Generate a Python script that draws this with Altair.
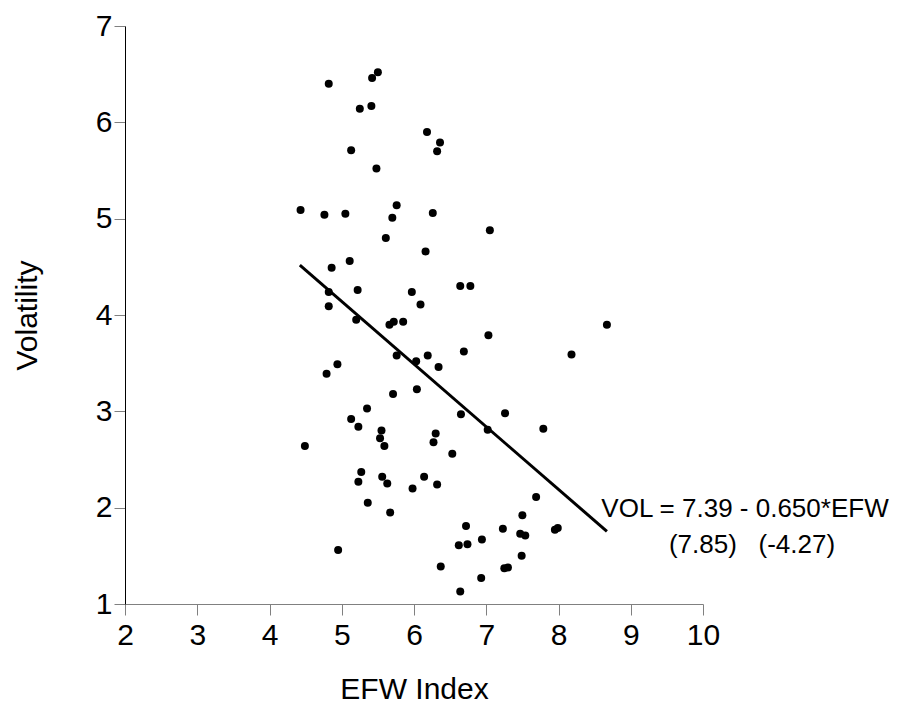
import altair as alt
import pandas as pd

efw = [4.43, 4.49, 4.82, 4.76, 4.82, 4.82, 4.86, 4.79, 4.94, 4.95,
       5.05, 5.11, 5.13, 5.13, 5.20, 5.22, 5.23, 5.25, 5.41, 5.42,
       5.50, 5.48, 5.35, 5.27, 5.23, 5.36, 5.55, 5.53, 5.59, 5.56,
       5.63, 5.67, 5.61, 5.70, 5.76, 5.66, 5.72, 5.85, 5.76, 5.71,
       5.97, 5.98, 6.03, 6.04, 6.09, 6.14, 6.16, 6.18, 6.19, 6.26,
       6.27, 6.30, 6.32, 6.32, 6.36, 6.34, 6.37, 6.53, 6.62, 6.64,
       6.64, 6.65, 6.69, 6.72, 6.74, 6.78, 6.93, 6.94, 7.02, 7.03,
       7.05, 7.23, 7.26, 7.25, 7.30, 7.47, 7.49, 7.50, 7.54, 7.69,
       7.79, 7.95, 7.99, 8.18, 8.67]
vol = [5.09, 2.64, 6.40, 5.04, 4.24, 4.09, 4.49, 3.39, 3.49, 1.56,
       5.05, 4.56, 5.71, 2.92, 3.95, 4.26, 2.84, 6.14, 6.17, 6.46,
       6.52, 5.52, 3.03, 2.37, 2.27, 2.05, 2.80, 2.72, 2.64, 2.32,
       2.25, 1.95, 4.80, 5.01, 5.14, 3.90, 3.93, 3.93, 3.58, 3.18,
       4.24, 2.20, 3.52, 3.23, 4.11, 2.32, 4.66, 5.90, 3.58, 5.06,
       2.68, 2.77, 2.24, 5.70, 5.79, 3.46, 1.39, 2.56, 1.61, 1.13,
       4.30, 2.97, 3.62, 1.81, 1.62, 4.30, 1.27, 1.67, 2.81, 3.79,
       4.88, 1.78, 2.98, 1.37, 1.38, 1.73, 1.50, 1.92, 1.71, 2.11,
       2.82, 1.77, 1.79, 3.59, 3.90]

fit_x = [4.42, 8.67]
fit_y = [4.517, 1.754]

x_ticks = [2, 3, 4, 5, 6, 7, 8, 9, 10]
y_ticks = [1, 2, 3, 4, 5, 6, 7]

eq_line1 = "VOL = 7.39 - 0.650*EFW"
eq_line2 = "(7.85)\u00a0\u00a0\u00a0(-4.27)"

FONT = "Liberation Sans"

pts = pd.DataFrame({"EFW": efw, "VOL": vol})
fit = pd.DataFrame({"EFW": fit_x, "VOL": fit_y})

xscale = alt.Scale(domain=[2, 10], nice=False, zero=False)
yscale = alt.Scale(domain=[1, 7], nice=False, zero=False)

xaxis = alt.Axis(values=x_ticks, format="d", grid=False, title="EFW Index",
                 domainColor="#808080", tickColor="#808080", tickSize=11,
                 labelPadding=5, labelFontSize=30, labelColor="black",
                 labelFont=FONT, titleFont=FONT, titleFontSize=30,
                 titleFontWeight="normal", titleColor="black", titlePadding=24,
                 labelFlush=False)
yaxis = alt.Axis(values=y_ticks, format="d", grid=False, title="Volatility",
                 domainColor="black", tickColor="#808080", tickSize=11,
                 labelPadding=2, labelFontSize=30, labelColor="black",
                 labelFont=FONT, titleFont=FONT, titleFontSize=30,
                 titleFontWeight="normal", titleColor="black", titlePadding=53,
                 labelFlush=False)

points = alt.Chart(pts).mark_circle(size=64, color="black", opacity=1).encode(
    x=alt.X("EFW:Q", scale=xscale, axis=xaxis),
    y=alt.Y("VOL:Q", scale=yscale, axis=yaxis),
)

line = alt.Chart(fit).mark_line(color="black", strokeWidth=3).encode(
    x=alt.X("EFW:Q", scale=xscale),
    y=alt.Y("VOL:Q", scale=yscale),
)

t1 = alt.Chart(pd.DataFrame({"t": [eq_line1]})).mark_text(
    font=FONT, fontSize=26, align="center", baseline="alphabetic", color="black"
).encode(text="t:N", x=alt.value(620), y=alt.value(491))

t2 = alt.Chart(pd.DataFrame({"t": [eq_line2]})).mark_text(
    font=FONT, fontSize=26, align="center", baseline="alphabetic", color="black"
).encode(text="t:N", x=alt.value(627), y=alt.value(527))

chart = alt.layer(points, line, t1, t2).properties(
    width=578, height=578,
    autosize=alt.AutoSizeParams(type="none"),
    padding={"left": 117, "top": 18, "right": 188, "bottom": 101},
).configure_view(stroke=None)

chart.save("out.html", embed_options={"renderer": "svg", "actions": False})
